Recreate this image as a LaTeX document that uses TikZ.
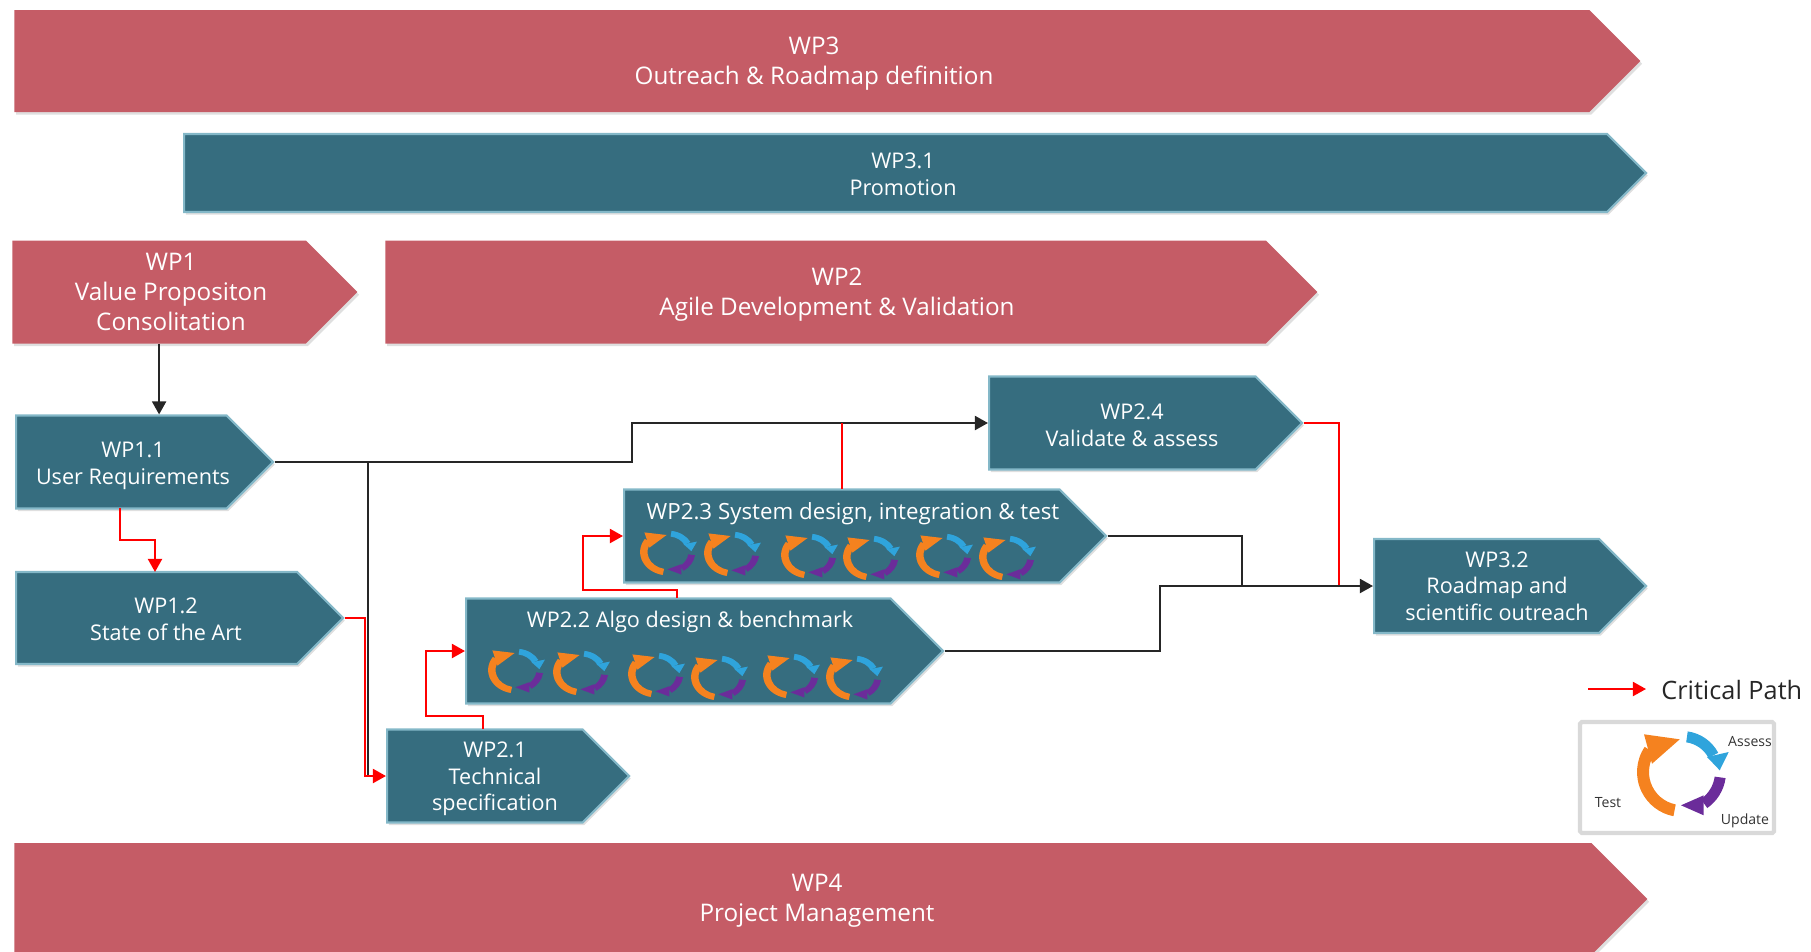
\documentclass[tikz,border=0pt]{standalone}
\usepackage{fontspec}
\setmainfont{Open Sans}
\usepackage{tikz}
\usetikzlibrary{shapes.symbols,shadows,calc,arrows.meta}

\definecolor{wpred}{HTML}{C55C66}
\definecolor{wpteal}{HTML}{366D7F}
\definecolor{wpedge}{HTML}{84B8C8}
\definecolor{looporange}{HTML}{F5821F}
\definecolor{loopblue}{HTML}{2FA4DC}
\definecolor{looppurple}{HTML}{6B2C9A}

\begin{document}
\begin{tikzpicture}[x=0.02cm,y=-0.02cm]
    \tikzstyle{wpshape} = [signal,signal to=east,inner sep=0pt,anchor=west,
      drop shadow={shadow xshift=1pt,shadow yshift=-1.5pt,opacity=0.25}]
    \tikzstyle{wpbig}   = [wpshape,fill=wpred]
    \tikzstyle{wpsmall} = [wpshape,fill=wpteal,draw=wpedge,line width=1.2pt]
    \tikzstyle{bigtext}   = [text=white,align=center,inner sep=0pt,font=\fontsize{13.8}{17}\selectfont]
    \tikzstyle{smalltext} = [text=white,align=center,inner sep=0pt,font=\fontsize{12.3}{15.2}\selectfont]
    \tikzstyle{looptext}  = [inner sep=0pt,text=black!80,font=\fontsize{8}{10}\selectfont]
    \tikzstyle{edge}    = [line width=1.3pt,draw=black!85]
    \tikzstyle{dedge}   = [edge,-{Triangle[length=7.5pt,width=8pt]}]
    \tikzstyle{redge}   = [line width=1.3pt,draw=red]
    \tikzstyle{cedge}   = [redge,-{Triangle[length=7.5pt,width=8pt]}]
    \tikzset{
      wploop/.pic={
        \fill[looporange] (-259:33) arc (-259:-146:33) -- (-146:45) arc (-146:-259:45) -- cycle;
        \fill[looporange] (-38,-37.7) -- (-2.3,-32.7) -- (-30,-8.3) -- cycle;
        \fill[loopblue] (-82:30) arc (-82:-28:30) -- (-28:41) arc (-28:-82:41) -- cycle;
        \fill[loopblue] (25,-15) -- (46.7,-20) -- (37.7,-1.7) -- cycle;
        \fill[looppurple] (8:33) arc (8:55:33) -- (55:44) arc (55:8:44) -- cycle;
        \fill[looppurple] (21.7,23.3) -- (21.7,43.3) -- (-1,33.3) -- cycle;
      },
      small/.style={xscale=0.62,yscale=0.52}
    }

    \useasboundingbox (0,0) rectangle (1811,951);

    \node[wpbig,minimum width=1626*0.02cm,minimum height=102*0.02cm] (wp3) at (14,61) {};
    \node[wpsmall,minimum width=1462*0.02cm,minimum height=78*0.02cm] (wp31) at (183,173) {};
    \node[wpbig,minimum width=345*0.02cm,minimum height=103*0.02cm] (wp1) at (12,292) {};
    \node[wpbig,minimum width=932*0.02cm,minimum height=103*0.02cm] (wp2) at (385,292) {};
    \node[wpsmall,minimum width=257*0.02cm,minimum height=93*0.02cm] (wp11) at (15,462) {};
    \node[wpsmall,minimum width=327*0.02cm,minimum height=92*0.02cm] (wp12) at (15,618) {};
    \node[wpsmall,minimum width=242*0.02cm,minimum height=93*0.02cm] (wp21) at (386,776) {};
    \node[wpsmall,minimum width=477*0.02cm,minimum height=105*0.02cm] (wp22) at (465,651) {};
    \node[wpsmall,minimum width=482*0.02cm,minimum height=93*0.02cm] (wp23) at (623,536) {};
    \node[wpsmall,minimum width=313*0.02cm,minimum height=93*0.02cm] (wp24) at (988,423) {};
    \node[wpsmall,minimum width=272*0.02cm,minimum height=94*0.02cm] (wp32) at (1373,586) {};
    \node[wpbig,minimum width=1633*0.02cm,minimum height=112*0.02cm] (wp4) at (14,899) {};

    \node[bigtext] (wp3t) at (814,64) {WP3\\Outreach \& Roadmap definition};
    \node[smalltext] (wp31t) at (903,174) {WP3.1\\Promotion};
    \node[bigtext] (wp1t) at (171,292) {WP1\\Value Propositon\\Consolitation};
    \node[bigtext] (wp2t) at (837,295) {WP2\\Agile Development \& Validation};
    \node[smalltext] (wp11t) at (133,466) {WP1.1\\User Requirements};
    \node[smalltext] (wp12t) at (166,619) {WP1.2\\State of the Art};
    \node[smalltext] (wp21t) at (495,779) {WP2.1\\Technical\\specification};
    \node[smalltext] (wp22t) at (690,622) {WP2.2 Algo design \& benchmark};
    \node[smalltext,font=\fontsize{12.7}{15.2}\selectfont] (wp23t) at (853,514) {WP2.3 System design, integration \& test};
    \node[smalltext] (wp24t) at (1132,425) {WP2.4\\Validate \& assess};
    \node[smalltext] (wp32t) at (1497,586) {WP3.2\\Roadmap and\\scientific outreach};
    \node[bigtext] (wp4t) at (817,901) {WP4\\Project Management};

    \foreach \px/\py in {516/670,581/672,656/674,719/677,791/675,854/677,
                         668/552,732/553,809/555,871/557,944/555,1007/557}
      \pic[small] at (\px,\py) {wploop};

    \draw[dedge] (wp1.south) -- (wp1.south |- wp11.north);
    \coordinate (wp11a) at (368,462);
    \coordinate (wp11b) at (632,462);
    \coordinate (wp24a) at (632,423);
    \coordinate (wp21a) at (368,776);
    \draw[dedge] (wp11.east) -- (wp11b) -- (wp24a) -- (wp24.west);
    \draw[edge] (wp11a) -- (wp21a);
    \coordinate (wp23a) at (842,489);
    \coordinate (wp23b) at (842,423);
    \draw[redge] (wp23a) -- (wp23b);

    \coordinate (wp11c) at (120,508);
    \coordinate (wp11d) at (120,540);
    \coordinate (wp11e) at (155,540);
    \coordinate (wp12a) at (155,572);
    \draw[cedge] (wp11c) -- (wp11d) -- (wp11e) -- (wp12a);
    \coordinate (wp12b) at (365,618);
    \coordinate (wp21b) at (365,776);
    \draw[cedge] (wp12.east) -- (wp12b) -- (wp21b) -- (wp21.west);

    \coordinate (wp21c) at (483,729);
    \coordinate (wp21d) at (483,716);
    \coordinate (wp21e) at (426,716);
    \coordinate (wp22a) at (426,651);
    \draw[cedge] (wp21c) -- (wp21d) -- (wp21e) -- (wp22a) -- (wp22.west);
    \coordinate (wp22b) at (677,598);
    \coordinate (wp22c) at (677,590);
    \coordinate (wp22d) at (583,590);
    \coordinate (wp23c) at (583,536);
    \draw[cedge] (wp22b) -- (wp22c) -- (wp22d) -- (wp23c) -- (wp23.west);

    \coordinate (wp24b) at (1339,423);
    \coordinate (wp32a) at (1339,586);
    \draw[redge] (wp24.east) -- (wp24b) -- (wp32a);
    \coordinate (wp23d) at (1242,536);
    \coordinate (wp32b) at (1242,586);
    \draw[edge] (wp23.east) -- (wp23d) -- (wp32b);
    \coordinate (wp22e) at (1160,651);
    \coordinate (wp32c) at (1160,586);
    \draw[dedge] (wp22.east) -- (wp22e) -- (wp32c) -- (wp32.west);

    % legend
    \node[anchor=west,inner sep=0pt,text=black!85,font=\fontsize{14.4}{17}\selectfont] (crit) at (1661,690) {Critical Path};
    \coordinate (crita) at (1588,689);
    \coordinate (critb) at (1646,689);
    \draw[cedge] (crita) -- (critb);
    \pic at (1682,772) {wploop};
    \node[looptext] (ltest) at (1608,803) {Test};
    \node[looptext] (lassess) at (1750,742) {Assess};
    \node[looptext] (lupdate) at (1745,821) {Update};
    \draw[draw=black!15,line width=2.4pt,rounded corners=1pt] (1580,722) rectangle (1774,833);
\end{tikzpicture}
\end{document}
